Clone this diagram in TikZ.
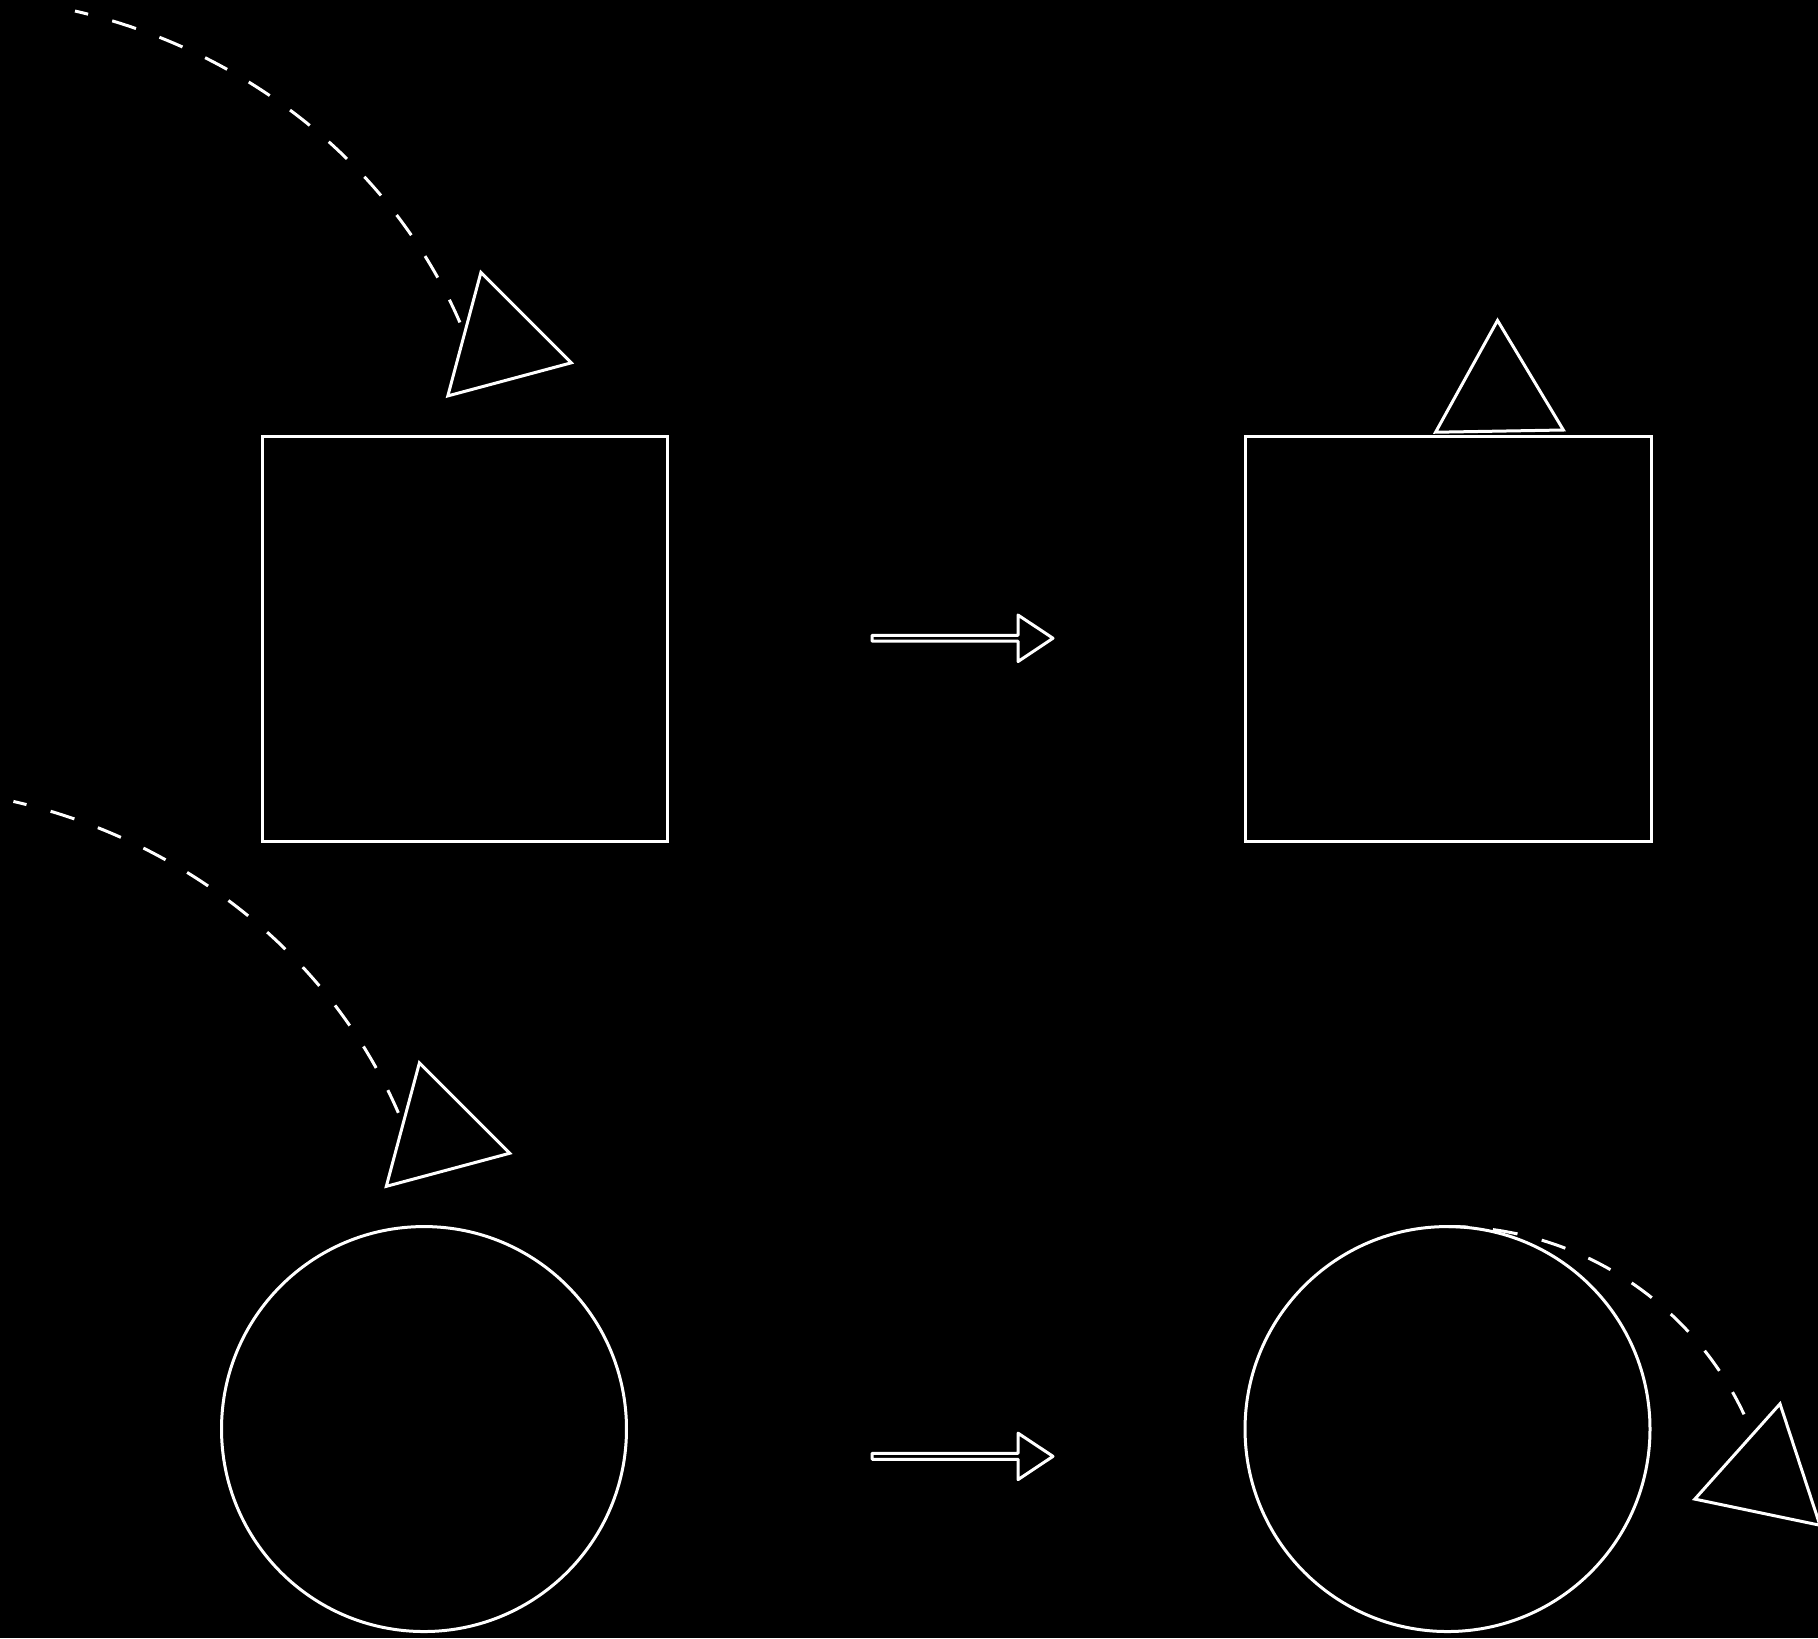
\documentclass[tikz,border=0pt]{standalone}
\usetikzlibrary{shapes.geometric,calc}
\begin{document}
\begin{tikzpicture}[x=0.1pt,y=-0.1pt,
  outline/.style={draw=white, line width=0.3pt},
  sq/.style={outline, rectangle, minimum size=40.55pt, inner sep=0pt},
  rnd/.style={outline, circle, minimum size=40.5pt, inner sep=0pt},
  tri/.style={outline, regular polygon, regular polygon sides=3, minimum size=14.76pt, inner sep=0pt},
  dashcurve/.style={draw=white, line width=0.3pt, dash pattern=on 2.5pt off 2.5pt},
  bigarrow/.style={draw=white, line width=0.3pt, line join=round}]
\fill[black] (0,0) rectangle (1818,1638);
\useasboundingbox (0,0) rectangle (1818,1638);
\clip (0,0) rectangle (1818,1638);

% shapes
\node[sq] (sq1) at (465,639.2) {};
\node[sq] (sq2) at (1448.3,639) {};
\node[rnd] (ci1) at (424,1429) {};
\node[rnd] (ci2) at (1447.5,1429) {};

% triangles
\node[tri, shape border rotate=15] (t1) at (500,343.7) {};
\node[tri, shape border rotate=15] (t2) at (438.5,1134.1) {};
\node[tri, shape border rotate=1] (t3) at (1498.8,394.2) {};
\node[tri, shape border rotate=-11.8] (t4) at (1764.9,1476) {};

% dashed paths
\coordinate (s1) at (75,11);
\coordinate (s2) at (13.4,801.4);
\coordinate (s3) at (1448.5,1226.5);
\draw[dashcurve, dash phase=1.15pt] (s1) .. controls (248.1,50.6) and (396.5,168.3) .. ($(t1.corner 1)!0.48!(t1.corner 2)$);
\draw[dashcurve, dash phase=1.15pt] (s2) .. controls (186.5,841) and (334.9,958.7) .. ($(t2.corner 1)!0.48!(t2.corner 2)$);
\draw[dashcurve, dash phase=0.55pt] (s3) .. controls (1582.8,1226.5) and (1703.3,1309.3) .. ($(t4.corner 1)!0.323!(t4.corner 2)$);

% hollow arrows
\draw[bigarrow] (872,635.3) -- (1018,635.3) -- (1018,615) -- (1053,638.2) -- (1018,661.5) -- (1018,641.1) -- (872,641.1) -- cycle;
\draw[bigarrow] (872,1453.4) -- (1018,1453.4) -- (1018,1433.1) -- (1053,1456.3) -- (1018,1479.6) -- (1018,1459.2) -- (872,1459.2) -- cycle;
\end{tikzpicture}
\end{document}
